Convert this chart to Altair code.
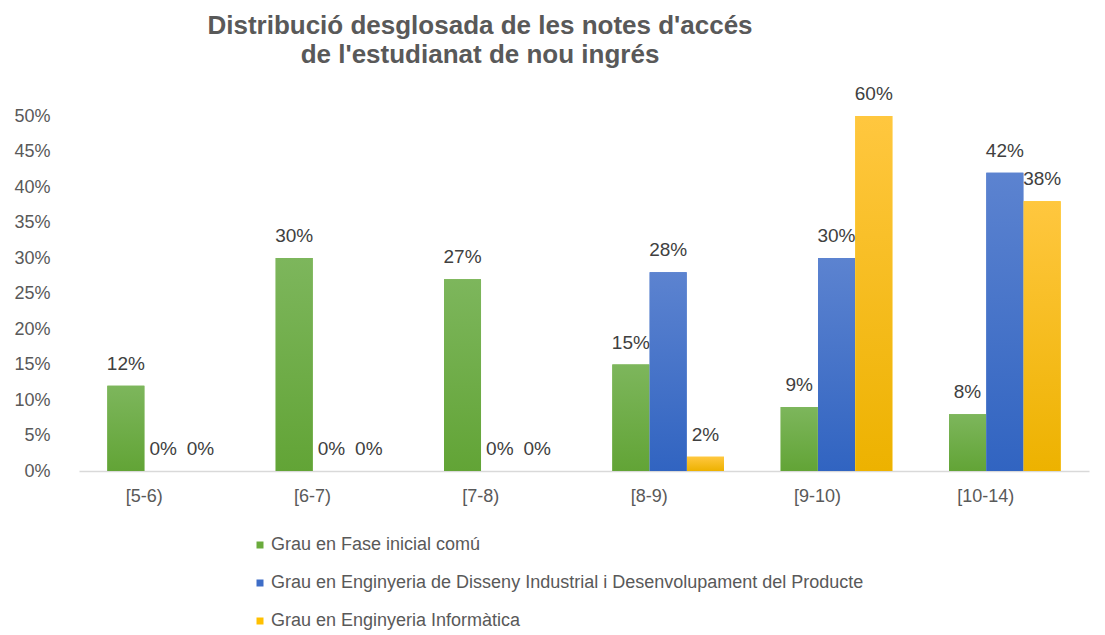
import altair as alt
import pandas as pd

categories = ["[5-6)", "[6-7)", "[7-8)", "[8-9)", "[9-10)", "[10-14)"]
series = [
    "Grau en Fase inicial comú",
    "Grau en Enginyeria de Disseny Industrial i Desenvolupament del Producte",
    "Grau en Enginyeria Informàtica",
]
fase_inicial = [0.12, 0.30, 0.27, 0.15, 0.09, 0.08]
disseny = [0.0, 0.0, 0.0, 0.28, 0.30, 0.42]
informatica = [0.0, 0.0, 0.0, 0.02, 0.60, 0.38]
colors = ["#6AAB3C", "#3E6DC7", "#FFC000"]
grad_top = ["#7DB65C", "#5C83D0", "#FFC73F"]
grad_bottom = ["#62A436", "#3164C1", "#EDB200"]

rows = []
for s, vals in zip(series, [fase_inicial, disseny, informatica]):
    for c, v in zip(categories, vals):
        rows.append({"cat": c, "serie": s, "val": v, "lab": f"{round(v*100)}%"})
df = pd.DataFrame(rows)

FONT = "Liberation Sans"
yscale = alt.Scale(domain=[0, 0.5], clamp=True, nice=False)

base = alt.Chart(df).encode(
    x=alt.X("cat:N", sort=categories, title=None,
            scale=alt.Scale(paddingInner=0.335, paddingOuter=0.1675),
            axis=alt.Axis(labelAngle=0, labelFontSize=18, labelColor="#595959",
                          labelFont=FONT, labelPadding=16, ticks=False, labelOffset=-19,
                          domainColor="#D9D9D9", domainWidth=1.5)),
    xOffset=alt.XOffset("serie:N", sort=series,
                        scale=alt.Scale(paddingInner=0, paddingOuter=0)),
    y=alt.Y("val:Q", scale=yscale, title=None,
            axis=alt.Axis(format=".0%", values=[0, .05, .1, .15, .2, .25, .3, .35, .4, .45, .5],
                          labelFontSize=18, labelColor="#595959", labelFont=FONT,
                          labelOverlap=False, grid=False, domain=False, ticks=False,
                          labelPadding=29)),
)

bars = base.mark_bar(size=37).encode(
    color=alt.Color("serie:N", sort=series,
                    scale=alt.Scale(domain=series, range=colors),
                    legend=alt.Legend(title=None, orient="none", legendX=172, legendY=420,
                                      direction="vertical", symbolType="square", symbolSize=49,
                                      labelFontSize=18, labelColor="#595959",
                                      labelFont=FONT, rowPadding=20, labelOffset=2,
                                      symbolStrokeWidth=0, labelLimit=900)),
)

grad_layers = []
for s, top, bot in zip(series, grad_top, grad_bottom):
    grad_layers.append(
        base.transform_filter(alt.datum.serie == s).mark_bar(
            size=37,
            color=alt.Gradient(gradient="linear", x1=0, x2=0, y1=0, y2=1,
                               stops=[alt.GradientStop(color=top, offset=0),
                                      alt.GradientStop(color=bot, offset=1)]))
    )

labels = base.mark_text(baseline="bottom", dy=-12, fontSize=19,
                        color="#404040", font=FONT).encode(text="lab:N")

chart = alt.layer(bars, *grad_layers, labels).properties(
    width=1010, height=355,
    title=alt.TitleParams(
        text=["Distribució desglosada de les notes d'accés", "de l'estudianat de nou ingrés"],
        fontSize=26, font=FONT, fontWeight="bold", color="#595959",
        anchor="middle", dx=-104, offset=17, lineHeight=29),
    autosize=alt.AutoSizeParams(type="none"),
    padding={"left": 71, "top": 108, "right": 8, "bottom": 163},
).configure_view(stroke=None)

chart.save("out.html", embed_options={"renderer": "svg", "actions": False})
